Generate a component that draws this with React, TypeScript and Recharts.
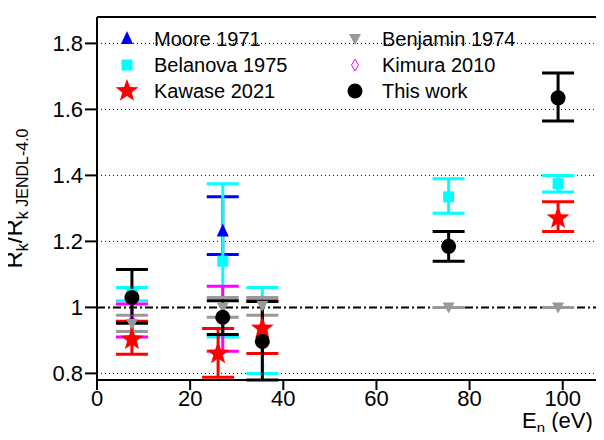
import React from 'react';
import { ScatterChart, Scatter, XAxis, YAxis, ErrorBar, ReferenceLine, CartesianGrid } from 'recharts';

// energy (eV), ratio, lower and upper error
const mooreX = [27];
const mooreY = [1.23];
const mooreErr = [[0.07, 0.105]];

const belanovaX = [7.5, 27, 35.5, 75.5, 99];
const belanovaY = [1.04, 1.14, 0.93, 1.335, 1.375];
const belanovaErr = [[0.02, 0.02], [0.23, 0.235], [0.13, 0.13], [0.05, 0.055], [0.025, 0.025]];

const kawaseX = [7.5, 26, 35.5, 99];
const kawaseY = [0.903, 0.86, 0.936, 1.27];
const kawaseErr = [[0.045, 0.055], [0.072, 0.076], [0.076, 0.084], [0.04, 0.05]];

const benjaminX = [7.5, 27, 35.5, 75.5, 99];
const benjaminY = [0.95, 1.0, 1.005, 1.0, 1.0];
const benjaminErr = [[0.023, 0.026], [0.03, 0.03], [0.029, 0.025], [0, 0], [0, 0]];

const kimuraX = [7.5, 27];
const kimuraY = [0.96, 0.965];
const kimuraErr = [[0.05, 0.05], [0.098, 0.099]];

const thisX = [7.5, 27, 35.5, 75.5, 99];
const thisY = [1.03, 0.97, 0.897, 1.185, 1.635];
const thisErr = [[0.078, 0.085], [0.052, 0.05], [0.117, 0.121], [0.045, 0.045], [0.07, 0.075]];

const xTicks = [0, 20, 40, 60, 80, 100];
const yTicks = [0.8, 1, 1.2, 1.4, 1.6, 1.8];
const yGrid = [0.8, 1.2, 1.4, 1.6, 1.8];

const build = (xs: number[], ys: number[], es: number[][]) =>
  xs.map((x, i) => ({ x, y: ys[i], err: es[i] }));

const Star = (p: any) => {
  const { cx, cy } = p;
  const pts: string[] = [];
  for (let i = 0; i < 10; i++) {
    const r = i % 2 === 0 ? 12 : 5;
    const a = -Math.PI / 2 + (i * Math.PI) / 5;
    pts.push(`${cx + r * Math.cos(a)},${cy + r * Math.sin(a)}`);
  }
  return <polygon points={pts.join(' ')} fill="#ff0000" />;
};
const TriUp = (p: any) => <polygon points={`${p.cx},${p.cy - 8} ${p.cx - 6},${p.cy + 5} ${p.cx + 6},${p.cy + 5}`} fill="#0000ff" />;
const TriDown = (p: any) => <polygon points={`${p.cx},${p.cy + 6} ${p.cx - 6},${p.cy - 5} ${p.cx + 6},${p.cy - 5}`} fill="#999999" />;
const Square = (p: any) => <rect x={p.cx - 5.5} y={p.cy - 5.5} width={11} height={11} fill="#00ffff" />;
const Diamond = (p: any) => <polygon points={`${p.cx},${p.cy - 6} ${p.cx - 3.5},${p.cy} ${p.cx},${p.cy + 6} ${p.cx + 3.5},${p.cy}`} fill="none" stroke="#ff00ff" strokeWidth={1} />;
const Dot = (p: any) => <circle cx={p.cx} cy={p.cy} r={7.5} fill="#000" />;

const YLabel = (props: any) => {
  const vb = props.viewBox;
  const cx = vb.x + 22;
  const cy = vb.y + vb.height / 2;
  return (
    <text transform={`translate(${cx},${cy}) rotate(-90)`} textAnchor="middle" fontSize={24} fontFamily="Liberation Sans, Arial">
      R<tspan fontSize={16} dy={6}>k</tspan><tspan dy={-6}>/R</tspan><tspan fontSize={16} dy={6}>k JENDL-4.0</tspan>
    </text>
  );
};

const series = [
  { name: 'Moore 1971', data: build(mooreX, mooreY, mooreErr), color: '#0000ff', shape: TriUp },
  { name: 'Belanova 1975', data: build(belanovaX, belanovaY, belanovaErr), color: '#00ffff', shape: Square },
  { name: 'Kimura 2010', data: build(kimuraX, kimuraY, kimuraErr), color: '#ff00ff', shape: Diamond },
  { name: 'Benjamin 1974', data: build(benjaminX, benjaminY, benjaminErr), color: '#999999', shape: TriDown },
  { name: 'Kawase 2021', data: build(kawaseX, kawaseY, kawaseErr), color: '#ff0000', shape: Star },
  { name: 'This work', data: build(thisX, thisY, thisErr), color: '#000000', shape: Dot },
];

const legendL = [
  { label: 'Moore 1971', shape: TriUp },
  { label: 'Belanova 1975', shape: Square },
  { label: 'Kawase 2021', shape: Star },
];
const legendR = [
  { label: 'Benjamin 1974', shape: TriDown },
  { label: 'Kimura 2010', shape: Diamond },
  { label: 'This work', shape: Dot },
];

export default function App() {
  const font = 'Liberation Sans, Arial';
  return (
    <div style={{ margin: -8, position: 'relative', width: 604, height: 440, background: '#fff', fontFamily: font }}>
      <ScatterChart width={604} height={440} margin={{ top: 17, right: 4, bottom: 0, left: 0 }}>
        <CartesianGrid horizontal vertical={false} horizontalValues={yGrid} stroke="#000" strokeDasharray="1 3" />
        <XAxis type="number" dataKey="x" domain={[0, 108]} ticks={xTicks} allowDataOverflow
          tick={{ fontSize: 22, fill: '#000', fontFamily: font }} stroke="#000" strokeWidth={2} tickSize={10} height={60} tickMargin={0} />
        <YAxis type="number" dataKey="y" domain={[0.78, 1.88]} ticks={yTicks} allowDataOverflow
          tickFormatter={(v: number) => String(v)}
          tick={{ fontSize: 22, fill: '#000', fontFamily: font }} stroke="#000" strokeWidth={2} tickSize={12} width={97}
          label={<YLabel />} />
        <YAxis yAxisId="right" orientation="right" type="number" dataKey="y" domain={[0.78, 1.88]} ticks={yTicks} tick={false} stroke="#000" strokeWidth={2} tickSize={12} width={0} />
        <ReferenceLine y={1.88} stroke="#000" strokeWidth={2} />
        <ReferenceLine y={1} stroke="#000" strokeWidth={2} strokeDasharray="8 3 2 3" />
        {series.map((s) => (
          <Scatter key={s.name} name={s.name} data={s.data} shape={s.shape} isAnimationActive={false}>
            <ErrorBar dataKey="err" direction="y" stroke={s.color} strokeWidth={3} width={16} />
          </Scatter>
        ))}
      </ScatterChart>
      <div style={{ position: 'absolute', left: 522, top: 409, fontSize: 22, lineHeight: '24px' }}>
        E<sub style={{ fontSize: 15, lineHeight: 0 }}>n</sub> (eV)
      </div>
      {[legendL, legendR].map((col, ci) => (
        <div key={ci} style={{ position: 'absolute', left: ci === 0 ? 112 : 340, top: 26 }}>
          {col.map((l, i) => (
            <div key={i} style={{ display: 'flex', alignItems: 'center', height: 26, fontSize: 20 }}>
              <svg width={30} height={26}>{React.createElement(l.shape, { cx: 15, cy: 13 })}</svg>
              <span style={{ marginLeft: 12 }}>{l.label}</span>
            </div>
          ))}
        </div>
      ))}
    </div>
  );
}
